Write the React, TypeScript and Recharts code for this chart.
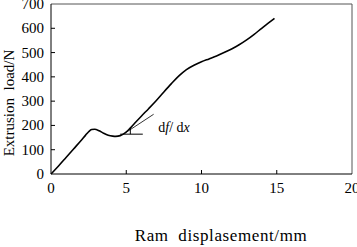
import { LineChart, Line, XAxis, YAxis, ReferenceLine, ReferenceDot } from 'recharts';

// Ram displacement (mm) vs extrusion load (N)
const displacement = [0, 0.5, 1, 1.5, 2, 2.3, 2.5, 2.7, 2.9, 3.2, 3.5, 3.8, 4.1, 4.3, 4.6, 4.9, 5.2, 5.5, 6, 6.5, 7, 7.5, 8, 8.5, 9, 9.5, 10, 10.5, 11, 11.5, 12, 12.5, 13, 13.5, 14, 14.5, 14.85];
const load = [0, 33, 68, 103, 138, 160, 174, 183, 184, 178, 168, 160, 156, 155, 158, 168, 185, 205, 238, 270, 303, 338, 372, 404, 430, 448, 462, 474, 486, 500, 515, 532, 552, 575, 600, 624, 641];

const xTicks = [0, 5, 10, 15, 20];
const yTicks = [0, 100, 200, 300, 400, 500, 600, 700];

const data = displacement.map((x, i) => ({ x, y: load[i] }));

const font = '"Liberation Serif", "DejaVu Serif", serif';

const XTick = ({ x, y, payload }: any) => (
  <g>
    {payload.value !== 0 && payload.value !== 20 && (
      <line x1={x} y1={y} x2={x} y2={y - 4} stroke="#000" />
    )}
    <text x={x} y={y + 19} textAnchor="middle" fontSize={15} fontFamily={font} fill="#000">
      {payload.value}
    </text>
  </g>
);

const YTick = ({ x, y, payload }: any) => (
  <g>
    {payload.value !== 0 && payload.value !== 700 && (
      <line x1={x} y1={y} x2={x + 4} y2={y} stroke="#000" />
    )}
    <text x={x - 7} y={y + 5} textAnchor="end" fontSize={15} fontFamily={font} fill="#000">
      {payload.value}
    </text>
  </g>
);

const YTitle = () => (
  <text transform="translate(14,103) rotate(-90)" textAnchor="middle" fontSize={15} fontFamily={font} fill="#000">
    Extrusion{'\u00a0 '}load/N
  </text>
);

const XTitle = () => (
  <text x={221} y={241} textAnchor="middle" fontSize={17} letterSpacing={0.6} fontFamily={font} fill="#000">
    Ram{'\u00a0 '}displasement/mm
  </text>
);

const DerivLabel = ({ viewBox }: any) => (
  <text x={viewBox.x} y={viewBox.y + 5} fontSize={14} fontFamily={font} fill="#000">
    d<tspan fontStyle="italic">f</tspan>/ d<tspan fontStyle="italic">x</tspan>
  </text>
);

export default function App() {
  return (
    <div style={{ position: 'absolute', left: 0, top: 0, width: 357, height: 247, background: '#fff' }}>
      <LineChart width={357} height={247} data={data} margin={{ top: 4, right: 5, bottom: 43, left: 11 }}>
        <XAxis
          dataKey="x"
          type="number"
          domain={[0, 20]}
          ticks={xTicks}
          interval={0}
          tick={<XTick />}
          tickLine={false}
          tickSize={0}
          tickMargin={0}
          axisLine={{ stroke: '#000' }}
          label={<XTitle />}
        />
        <YAxis
          type="number"
          domain={[0, 700]}
          ticks={yTicks}
          interval={0}
          tick={<YTick />}
          tickLine={false}
          tickSize={0}
          tickMargin={0}
          width={40}
          axisLine={{ stroke: '#000' }}
          label={<YTitle />}
        />
        <ReferenceLine y={700} stroke="#555" strokeWidth={1} />
        <ReferenceLine x={20} stroke="#555" strokeWidth={1} />
        <ReferenceLine segment={[{ x: 4.6, y: 164 }, { x: 6.1, y: 164 }]} stroke="#000" strokeWidth={1} />
        <ReferenceLine segment={[{ x: 5.27, y: 164 }, { x: 5.27, y: 190 }]} stroke="#000" strokeWidth={1} />
        <ReferenceLine segment={[{ x: 4.93, y: 169 }, { x: 6.82, y: 246 }]} stroke="#000" strokeWidth={0.8} />
        <ReferenceDot x={7.13} y={194} r={0} fill="none" stroke="none" label={<DerivLabel />} />
        <Line dataKey="y" type="monotone" stroke="#000" strokeWidth={1.6} dot={false} isAnimationActive={false} />
      </LineChart>
    </div>
  );
}
